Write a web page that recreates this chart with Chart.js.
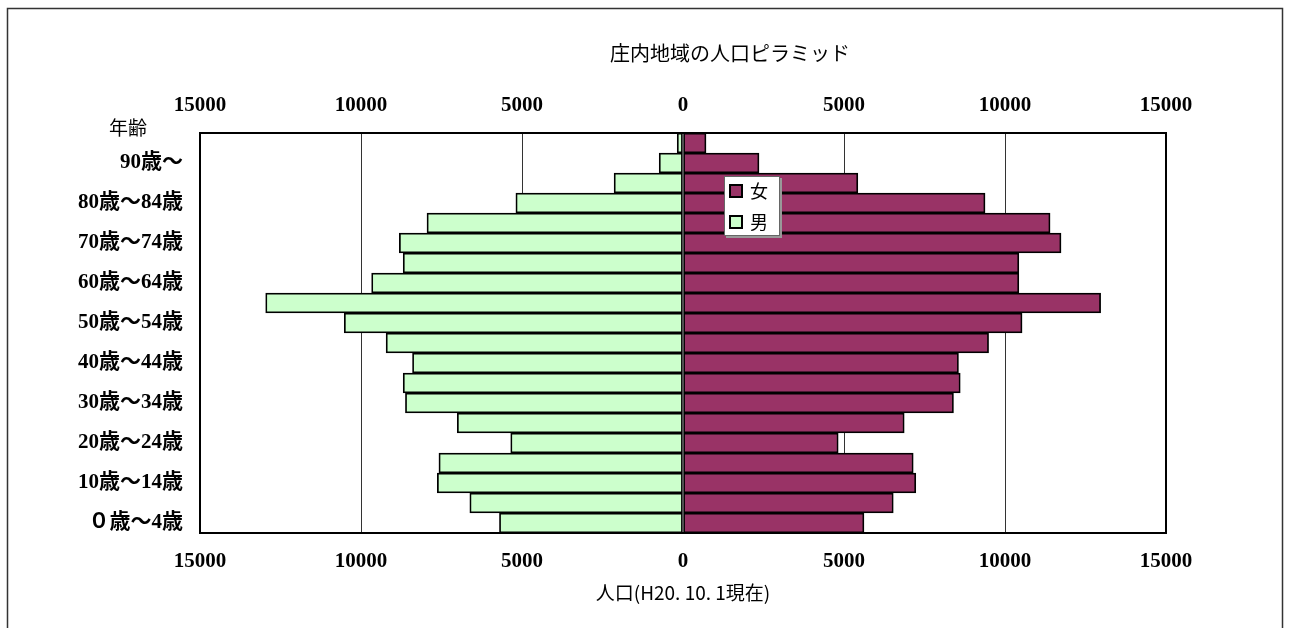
<!DOCTYPE html>
<html lang="ja">
<head>
  <meta charset="UTF-8">
  <title>庄内地域の人口ピラミッド</title>
  <script src="https://cdn.jsdelivr.net/npm/chart.js"></script>
  <style>
    html, body { margin: 0; padding: 0; background: #fff; }
    #wrap { width: 1290px; height: 628px; }
  </style>
</head>
<body>
  <div id="wrap"><canvas id="pyramid" width="1290" height="628"></canvas></div>

  <script>
    // 年齢区分（下から上へ）
    const ageLabels = [
      '０歳～4歳', '5歳～9歳', '10歳～14歳', '15歳～19歳', '20歳～24歳',
      '25歳～29歳', '30歳～34歳', '35歳～39歳', '40歳～44歳', '45歳～49歳',
      '50歳～54歳', '55歳～59歳', '60歳～64歳', '65歳～69歳', '70歳～74歳',
      '75歳～79歳', '80歳～84歳', '85歳～89歳', '90歳～', '不詳'
    ];
    // 人口（図から読み取った概数）
    const female = [5620, 6530, 7230, 7150, 4820, 6870, 8400, 8610, 8555, 9490,
                    10530, 12970, 10430, 10430, 11740, 11400, 9380, 5430, 2360, 715];
    const male   = [5700, 6620, 7630, 7580, 5350, 7010, 8620, 8690, 8400, 9220,
                    10520, 12960, 9670, 8690, 8810, 7950, 5190, 2140, 740, 180];
    const axisMin = -15000, axisMax = 15000, axisStep = 5000;

    const chartTitle = '庄内地域の人口ピラミッド';
    const xTitle = '人口(H20. 10. 1現在)';
    const yTitle = '年齢';

    const numFont = { family: "'Liberation Serif', 'Noto Sans CJK JP', serif", size: 21, weight: 'bold' };
    const jpFont = "'Noto Sans CJK JP', 'Noto Sans', sans-serif";

    // 枠・タイトル・凡例を描く
    const decorations = {
      id: 'decorations',
      beforeDraw(chart) {
        const c = chart.ctx;
        c.save();
        c.strokeStyle = '#333';
        c.lineWidth = 1.5;
        c.strokeRect(7.5, 8.5, 1275, 700);
        c.restore();
      },
      afterDatasetsDraw(chart) {
        const c = chart.ctx, a = chart.chartArea;
        c.save();
        c.strokeStyle = '#000';
        c.lineWidth = 2;
        c.strokeRect(a.left, a.top, a.right - a.left, a.bottom - a.top);
        c.restore();
      },
      afterDraw(chart) {
        const c = chart.ctx;
        c.save();
        c.fillStyle = '#000';
        c.textAlign = 'center';
        c.textBaseline = 'middle';
        c.font = '20px ' + jpFont;
        c.fillText(chartTitle, 730, 53);
        c.font = '19px ' + jpFont;
        c.fillText(yTitle, 128, 128);

        // 凡例
        const bx = 724, by = 176, bw = 56, bh = 60;
        c.fillStyle = '#999';
        c.fillRect(bx + 2, by + 2, bw, bh);
        c.fillStyle = '#fff';
        c.fillRect(bx, by, bw, bh);
        c.strokeStyle = '#666';
        c.lineWidth = 1;
        c.strokeRect(bx + 0.5, by + 0.5, bw - 1, bh - 1);
        c.font = '18px ' + jpFont;
        c.textAlign = 'left';
        chart.data.datasets.forEach((ds, i) => {
          const cy = by + 15 + i * 31;
          c.fillStyle = ds.backgroundColor;
          c.fillRect(bx + 6, cy - 6, 12, 12);
          c.strokeStyle = '#000';
          c.lineWidth = 2;
          c.strokeRect(bx + 6, cy - 6, 12, 12);
          c.fillStyle = '#000';
          c.fillText(ds.label, bx + 26, cy);
        });
        c.restore();
      }
    };

    new Chart(document.getElementById('pyramid'), {
      type: 'bar',
      data: {
        labels: ageLabels,
        datasets: [
          {
            label: '女',
            data: female,
            backgroundColor: '#993366',
            borderColor: '#000',
            borderWidth: 1.75,
            borderSkipped: false,
            barPercentage: 1,
            categoryPercentage: 1
          },
          {
            label: '男',
            data: male.map(v => -v),
            backgroundColor: '#CCFFCC',
            borderColor: '#000',
            borderWidth: 1.75,
            borderSkipped: false,
            barPercentage: 1,
            categoryPercentage: 1
          }
        ]
      },
      options: {
        indexAxis: 'y',
        responsive: false,
        animation: false,
        layout: { padding: { left: 10, right: 124, top: 60, bottom: 0 } },
        plugins: {
          legend: { display: false },
          title: { display: false },
          tooltip: { enabled: false }
        },
        scales: {
          y: {
            stacked: true,
            reverse: true,
            afterFit(scale) { scale.width = 190; },
            grid: { display: false, drawTicks: false },
            border: { display: false },
            ticks: {
              autoSkip: false,
              padding: 17,
              color: '#000',
              font: numFont,
              callback: (v) => v % 2 === 0 ? ageLabels[v] : ''
            }
          },
          x: {
            stacked: true,
            position: 'bottom',
            min: axisMin,
            max: axisMax,
            afterFit(scale) { scale.height = 95; },
            grid: {
              drawTicks: false,
              lineWidth: 1,
              color: (ctx) => ctx.tick && ctx.tick.value === 0 ? 'rgba(0,0,0,0)' : '#333'
            },
            border: { display: false },
            ticks: {
              stepSize: axisStep,
              autoSkip: false,
              maxRotation: 0,
              padding: 16,
              color: '#000',
              font: numFont,
              callback: (v) => Math.abs(v)
            },
            title: {
              display: true,
              text: xTitle,
              color: '#000',
              font: { family: jpFont, size: 19 },
              padding: { top: 0, bottom: 24 }
            }
          },
          xTop: {
            type: 'linear',
            position: 'top',
            min: axisMin,
            max: axisMax,
            afterFit(scale) { scale.height = 73; },
            grid: { display: false, drawTicks: false },
            border: { display: false },
            ticks: {
              stepSize: axisStep,
              autoSkip: false,
              maxRotation: 0,
              padding: 15,
              color: '#000',
              font: numFont,
              callback: (v) => Math.abs(v)
            }
          }
        }
      },
      plugins: [decorations]
    });
  </script>
</body>
</html>
